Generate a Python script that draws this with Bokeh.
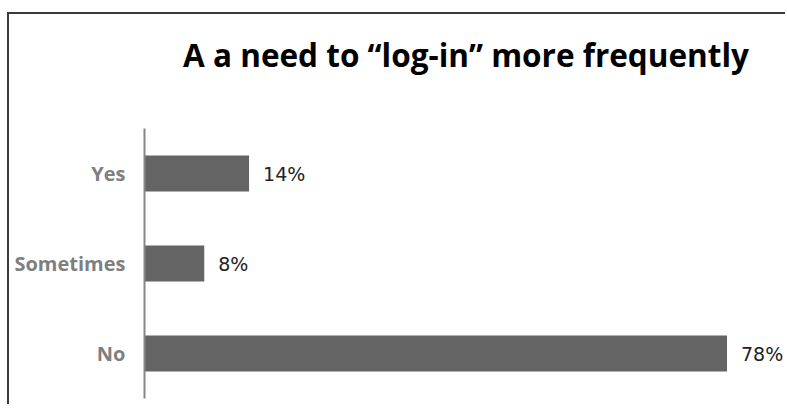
from bokeh.plotting import figure
from bokeh.models import ColumnDataSource, Range1d, FactorRange, Title
from bokeh.core.properties import value
from bokeh.embed import file_html
from bokeh.resources import INLINE

# Data
categories = ["No", "Sometimes", "Yes"]
percent = [78, 8, 14]
labels = ["78%", "8%", "14%"]
title_text = "A a need to \u201clog-in\u201d more frequently"

source = ColumnDataSource(dict(cat=categories, pct=percent, lab=labels))

p = figure(
    width=778, height=392,
    y_range=FactorRange(*categories, range_padding=0),
    x_range=Range1d(0, 86.1),
    output_backend="svg", toolbar_location=None,
    min_border_left=135, min_border_right=0,
    min_border_top=114, min_border_bottom=8,
    styles={"border-left": "2px solid #3a3a3a", "border-top": "2px solid #3a3a3a",
            "margin-top": "12px", "margin-left": "7px"},
)

p.hbar(y="cat", right="pct", left=0, height=0.4, source=source,
       fill_color="#646464", line_color=None)
p.text(x="pct", y="cat", text="lab", source=source, x_offset=14,
       text_align="left", text_baseline="middle",
       text_font=value("DejaVu Sans"), text_font_size="19px", text_color="#222222")

# spacer between frame and title
spacer = Title(text=" ", text_font_size="1px", standoff=45)
p.add_layout(spacer, "above")

p.title.text = title_text
p.title.align = "center"
p.title.text_font = "Open Sans"
p.title.text_font_style = "bold"
p.title.text_font_size = "31.5px"
p.title.text_color = "#000000"
p.title.standoff = 10

p.xaxis.visible = False
p.yaxis.axis_line_color = "#868686"
p.yaxis.axis_line_width = 2
p.yaxis.major_tick_line_color = None
p.yaxis.minor_tick_line_color = None
p.yaxis.major_label_text_font = "Open Sans"
p.yaxis.major_label_text_font_style = "bold"
p.yaxis.major_label_text_font_size = "20px"
p.yaxis.major_label_text_color = "#7f7f7f"
p.yaxis.major_label_standoff = 13

p.xgrid.visible = False
p.ygrid.visible = False
p.outline_line_color = None
p.background_fill_color = "white"
p.border_fill_color = "white"

open("out.html", "w").write(file_html(p, INLINE))
